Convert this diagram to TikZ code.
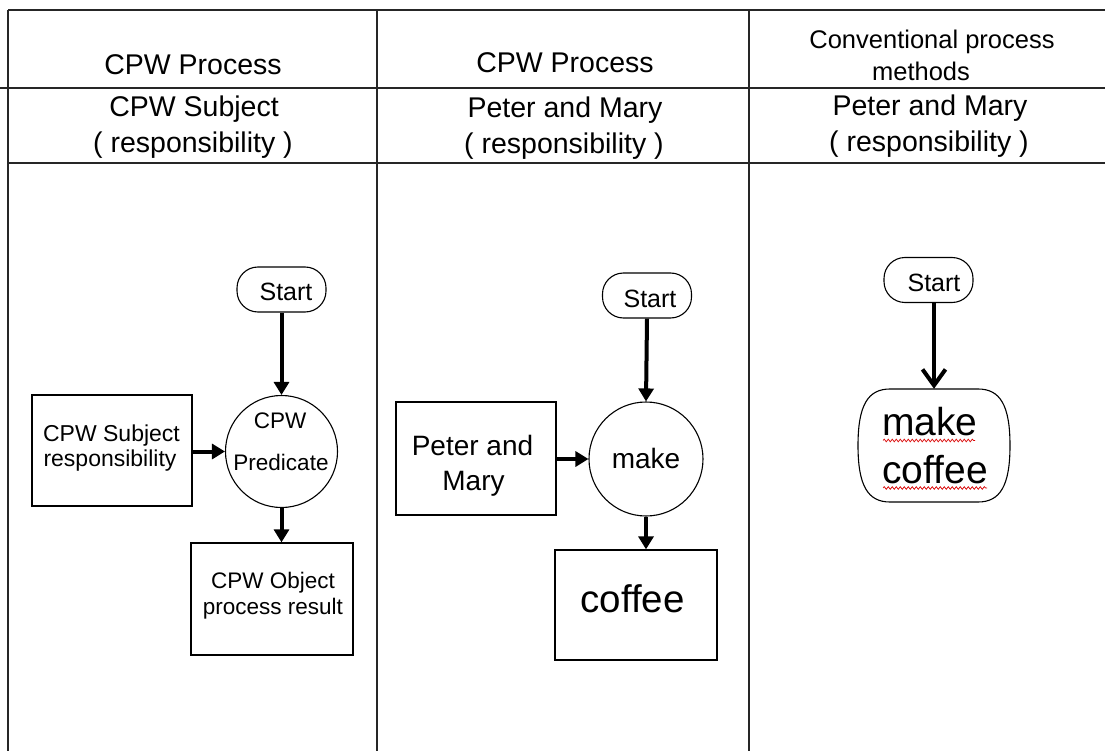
\documentclass[tikz,border=0pt]{standalone}
\usepackage{fontspec}
\setmainfont{Liberation Sans}
\usetikzlibrary{arrows.meta,decorations.pathmorphing,calc}
\newcommand\myfs[1]{\fontsize{#1}{#1}\selectfont}
\begin{document}
\begin{tikzpicture}[x=1pt,y=-1pt,
  gridline/.style={line width=1.4pt, draw=black!85},
  boxn/.style={draw, rectangle, line width=1.3pt, inner sep=0pt},
  pill/.style={draw, rectangle, rounded corners=21pt, line width=1.1pt, minimum width=89pt, minimum height=45pt, inner sep=0pt},
  circn/.style={draw, circle, line width=1.1pt, inner sep=0pt},
  txt/.style={anchor=base, inner sep=0pt, text=black},
  flow/.style={line width=4pt, -{Triangle[length=13pt,width=15pt]}},
  openflow/.style={line width=4pt, -{Straight Barb[length=16pt,width=23pt]}},
  squig/.style={draw=red!85!black, line width=0.7pt, decorate, decoration={snake, amplitude=1.3pt, segment length=4pt}},
]
\useasboundingbox (0,0) rectangle (1105,751);

% table grid
\draw[gridline] (8,10) -- (1105,10);
\draw[gridline] (0,88) -- (1105,88);
\draw[gridline] (8,163) -- (1105,163);
\draw[gridline] (8,10) -- (8,751);
\draw[gridline] (377,10) -- (377,751);
\draw[gridline] (749,10) -- (749,751);

% header texts
\node[txt, font=\myfs{28.5}] (h1) at (193,75) {CPW Process};
\node[txt, font=\myfs{28.5}] (h2) at (565,73) {CPW Process};
\node[txt, font=\myfs{25.5}] (h3a) at (932,49) {Conventional process};
\node[txt, font=\myfs{25.5}] (h3b) at (921,81) {methods};
\node[txt, font=\myfs{28.5}] (s1a) at (194,117) {CPW Subject};
\node[txt, font=\myfs{28.5}] (s1b) at (193,153) {( responsibility )};
\node[txt, font=\myfs{28.5}] (s2a) at (565,118) {Peter and Mary};
\node[txt, font=\myfs{28.5}] (s2b) at (564,154) {( responsibility )};
\node[txt, font=\myfs{28.5}] (s3a) at (930,116) {Peter and Mary};
\node[txt, font=\myfs{28.5}] (s3b) at (929,152) {( responsibility )};

% column 1
\node[pill] (st1) at (281.5,289.5) {};
\node[txt, font=\myfs{25}] (st1t) at (286,300) {Start};
\node[circn, minimum size=112pt] (pr1) at (281.5,451.5) {};
\node[txt, font=\myfs{22.5}] (pr1a) at (280,428) {CPW};
\node[txt, font=\myfs{22.5}] (pr1b) at (281,470) {Predicate};
\node[boxn, minimum width=160pt, minimum height=111pt] (sub1) at (112,450.5) {};
\node[txt, font=\myfs{23}] (sub1a) at (111.5,441) {CPW Subject};
\node[txt, font=\myfs{23}] (sub1b) at (110,466) {responsibility};
\node[boxn, minimum width=162pt, minimum height=112pt] (obj1) at (272,599) {};
\node[txt, font=\myfs{22.5}] (obj1a) at (273,588) {CPW Object};
\node[txt, font=\myfs{22.5}] (obj1b) at (273,614) {process result};

\draw[flow] (st1.south) -- (pr1.north);
\draw[flow] (sub1.east |- pr1) -- (pr1.west);
\draw[flow] (pr1.south) -- (pr1.south |- obj1.north);

% column 2
\node[pill] (st2) at (647,295.5) {};
\node[txt, font=\myfs{25}] (st2t) at (650,307) {Start};
\node[circn, minimum size=114pt] (pr2) at (646,459) {};
\node[txt, font=\myfs{28}] (pr2t) at (646,468) {make};
\node[boxn, minimum width=160pt, minimum height=113pt] (sub2) at (476,458.5) {};
\node[txt, font=\myfs{28}] (sub2a) at (472.5,455) {Peter and};
\node[txt, font=\myfs{28}] (sub2b) at (473.5,490) {Mary};
\node[boxn, minimum width=162pt, minimum height=110pt] (obj2) at (636,605) {};
\node[txt, font=\myfs{38.5}] (obj2t) at (632.5,612) {coffee};

\draw[flow] (st2.south) -- (pr2.north);
\draw[flow] (sub2.east |- pr2) -- (pr2.west);
\draw[flow] (pr2.south) -- (pr2.south |- obj2.north);

% column 3
\node[pill] (st3) at (928.5,280) {};
\node[txt, font=\myfs{25}] (st3t) at (934,291) {Start};
\node[minimum width=152pt, minimum height=113pt, inner sep=0pt] (mc) at (934,445.5) {};
\draw[line width=1.1pt] (890,389) -- (978,389)
  .. controls (1000,389) and (1010,405) .. (1010,445.5)
  .. controls (1010,486) and (1000,502) .. (978,502)
  -- (890,502)
  .. controls (868,502) and (858,486) .. (858,445.5)
  .. controls (858,405) and (868,389) .. (890,389) -- cycle;
\node[txt, anchor=base west, font=\myfs{39}] (mc1) at (882,435) {make};
\node[txt, anchor=base west, font=\myfs{39}] (mc2) at (882,483) {coffee};
\draw[squig] (883,440.5) -- (975,440.5);
\draw[squig] (883,488) -- (987,488);

\draw[openflow] (st3.south -| mc.north) -- (mc.north);
\end{tikzpicture}
\end{document}
